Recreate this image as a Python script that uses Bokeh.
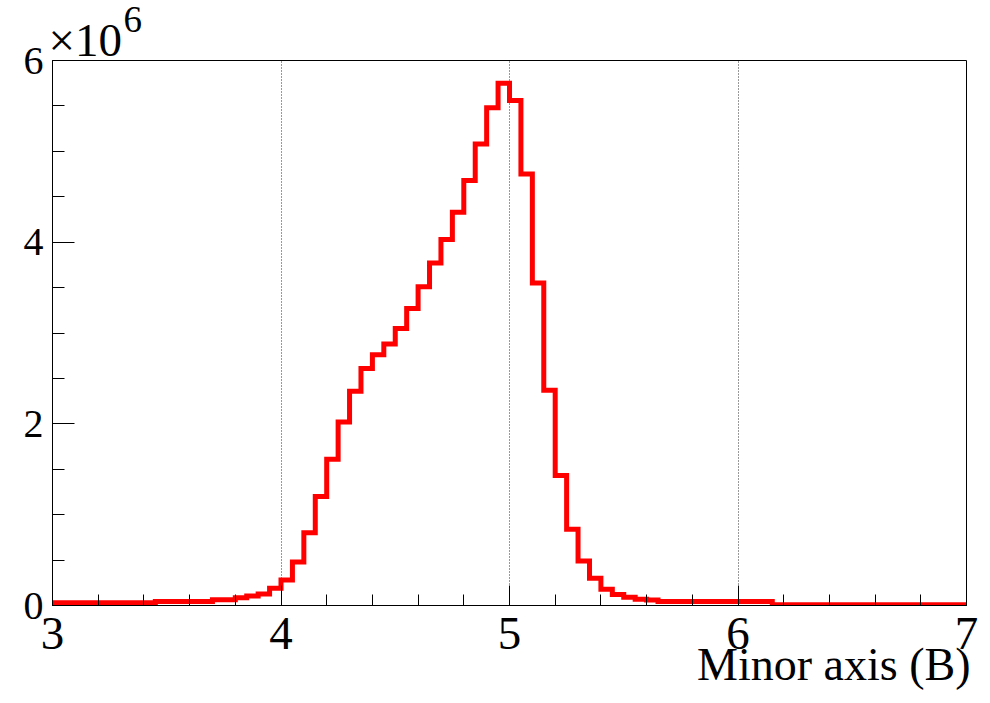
from bokeh.plotting import figure
from bokeh.models import FixedTicker, Label, Range1d
from bokeh.embed import file_html
from bokeh.resources import INLINE

# Histogram: 80 bins of width 0.05 from 3.0 to 7.0, entries in units of 10^6
x_min = 3.0
x_max = 7.0
n_bins = 80
counts_millions = [
    0.030, 0.030, 0.030, 0.030, 0.030, 0.030, 0.030, 0.030, 0.030,   # 3.00-3.45
    0.044, 0.044, 0.044, 0.044, 0.044,                               # 3.45-3.70
    0.063, 0.063, 0.085, 0.104, 0.126, 0.190,                        # 3.70-4.00
    0.28, 0.48, 0.80, 1.20, 1.61, 2.02, 2.36, 2.61, 2.76, 2.88,      # 4.00-4.50
    3.05, 3.27, 3.51, 3.77, 4.03, 4.33, 4.68, 5.08, 5.48, 5.75,      # 4.50-5.00
    5.56, 4.75, 3.55, 2.37, 1.43, 0.84, 0.49, 0.30, 0.18, 0.12,      # 5.00-5.50
    0.09, 0.07, 0.06,                                                # 5.50-5.65
    0.044, 0.044, 0.044, 0.044, 0.044, 0.044, 0.044, 0.044, 0.044, 0.044,  # 5.65-6.15
    0.007, 0.007, 0.007, 0.007, 0.007, 0.007, 0.007, 0.007, 0.007,  # 6.15-6.60
    0.007, 0.007, 0.007, 0.007, 0.007, 0.007, 0.007, 0.007,         # 6.60-7.00
]
x_major_ticks = [3, 4, 5, 6, 7]
y_major_ticks = [0, 2, 4, 6]
x_grid_lines = [4, 5, 6]
x_title = "Minor axis (B)"

bin_width = (x_max - x_min) / n_bins
edges = [x_min + i * bin_width for i in range(n_bins + 1)]
step_x = edges
step_y = counts_millions + [counts_millions[-1]]

SERIF = "Liberation Serif"

p = figure(width=990, height=703, output_backend="svg", toolbar_location=None,
           title=None, x_range=Range1d(x_min, x_max), y_range=Range1d(0, 6),
           min_border_left=52, min_border_right=24, min_border_top=60,
           min_border_bottom=98)
p.background_fill_color = "white"
p.border_fill_color = "white"
p.outline_line_color = "black"
p.outline_line_width = 1

p.step(step_x, step_y, mode="after", line_color="#ff0000", line_width=5,
       line_join="miter")

# axes
p.xaxis.ticker = FixedTicker(ticks=x_major_ticks,
                             minor_ticks=[round(x_min + 0.2 * i, 1) for i in range(21)])
p.yaxis.ticker = FixedTicker(ticks=y_major_ticks,
                             minor_ticks=[0.5 * i for i in range(13)])
for ax in (p.xaxis[0], p.yaxis[0]):
    ax.major_tick_out = 0
    ax.minor_tick_out = 0
    ax.axis_line_color = "black"
    ax.major_tick_line_color = "black"
    ax.minor_tick_line_color = "black"
    ax.major_label_text_font = SERIF
    ax.major_label_text_color = "black"
p.xaxis.major_tick_in = 20
p.xaxis.minor_tick_in = 11
p.yaxis.major_tick_in = 22
p.yaxis.minor_tick_in = 12
p.xaxis.major_label_text_font_size = "47px"
p.xaxis.major_label_standoff = 12
p.yaxis.major_label_text_font_size = "40px"
p.yaxis.major_label_standoff = 9

# grid: dotted vertical lines only
p.ygrid.grid_line_color = None
p.xgrid.ticker = FixedTicker(ticks=x_grid_lines)
p.xgrid.grid_line_color = "#333333"
p.xgrid.grid_line_dash = "1 2"
p.xgrid.grid_line_width = 1

# exponent label (side panels, so it is not clipped by the frame)
p.add_layout(Label(x=x_min, y=6, x_offset=-4, y_offset=21, text="\u00d710",
                   text_font=SERIF, text_font_size="47px", text_color="black",
                   text_align="left", text_baseline="alphabetic"), "above")
p.add_layout(Label(x=x_min, y=6, x_offset=71, y_offset=41, text="6",
                   text_font=SERIF, text_font_size="37px", text_color="black",
                   text_align="left", text_baseline="alphabetic"), "left")

# x-axis title, right aligned, in the bottom panel
p.add_layout(Label(x=x_max, y=0, x_offset=4, y_offset=-59, text=x_title,
                   text_font=SERIF, text_font_size="46px", text_color="black",
                   text_align="right", text_baseline="alphabetic"), "below")

open("out.html", "w").write(file_html(p, INLINE))
